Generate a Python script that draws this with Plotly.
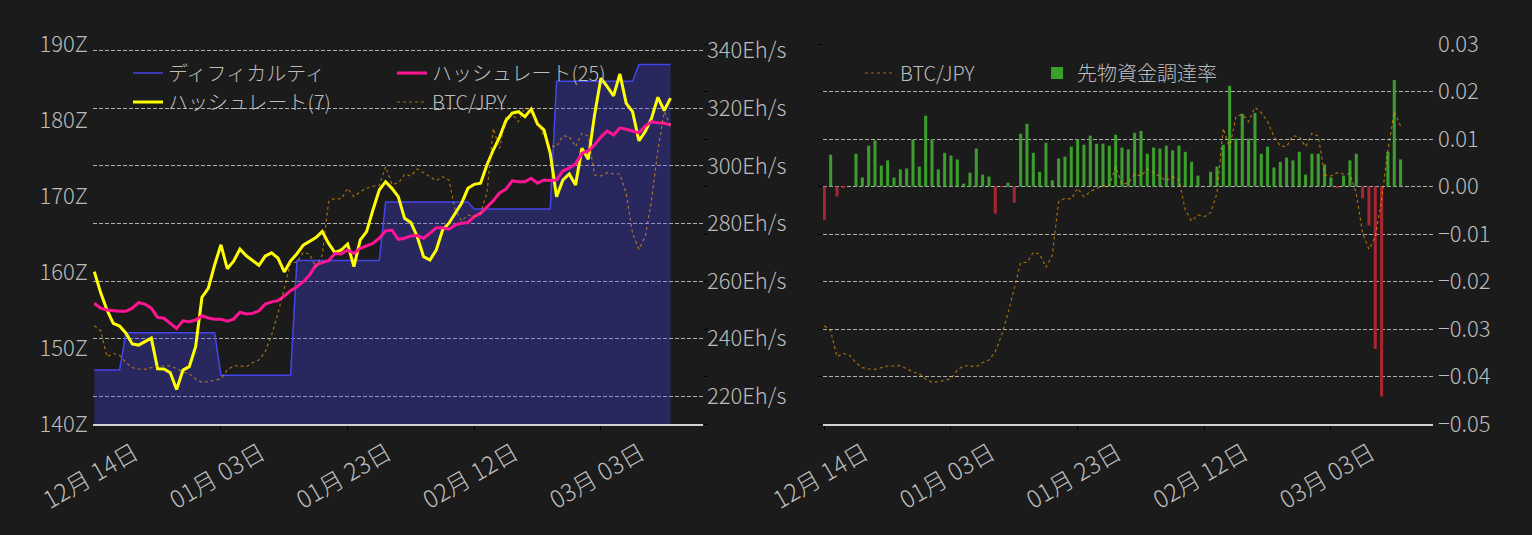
import pandas as pd
import plotly.graph_objects as go

# daily values, 2023-12-14 .. 2024-03-14
dates = pd.date_range("2023-12-14", periods=92, freq="D")

# difficulty in Z
difficulty = [
    147.1, 147.1, 147.1, 147.1, 147.1, 152.0, 152.0, 152.0, 152.0, 152.0,
    152.0, 152.0, 152.0, 152.0, 152.0, 152.0, 152.0, 152.0, 152.0, 152.0,
    146.4, 146.4, 146.4, 146.4, 146.4, 146.4, 146.4, 146.4, 146.4, 146.4,
    146.4, 146.4, 161.5, 161.5, 161.5, 161.5, 161.5, 161.5, 161.5, 161.5,
    161.5, 161.5, 161.5, 161.5, 161.5, 161.5, 169.2, 169.2, 169.2, 169.2,
    169.2, 169.2, 169.2, 169.2, 169.2, 169.2, 169.2, 169.2, 169.2, 169.2,
    168.3, 168.3, 168.3, 168.3, 168.3, 168.3, 168.3, 168.3, 168.3, 168.3,
    168.3, 168.3, 168.3, 185.1, 185.1, 185.1, 185.1, 185.1, 185.1, 185.1,
    185.1, 185.1, 185.1, 185.1, 185.1, 185.1, 187.3, 187.3, 187.3, 187.3,
    187.3, 187.3,
]

# hash rate in Eh/s
hashrate_7 = [
    263.3, 256.0, 250.0, 245.3, 244.4, 241.9, 238.2, 237.8, 239.0, 240.2,
    229.6, 229.5, 228.2, 222.4, 229.1, 230.3, 237.2, 254.4, 257.5, 265.6,
    272.6, 264.3, 266.9, 271.1, 268.8, 267.3, 265.5, 268.7, 269.8, 268.0,
    263.2, 267.0, 269.5, 272.5, 273.7, 275.1, 277.2, 273.1, 269.9, 270.8,
    272.9, 265.0, 274.3, 277.2, 284.7, 291.6, 294.5, 292.2, 289.3, 281.8,
    280.3, 275.4, 268.5, 267.3, 270.8, 277.7, 280.1, 283.5, 287.0, 292.2,
    293.6, 294.0, 300.3, 305.5, 310.0, 315.7, 318.3, 318.8, 317.1, 319.7,
    314.5, 312.5, 304.4, 289.3, 295.1, 297.2, 293.4, 306.1, 302.3, 317.7,
    330.4, 327.5, 324.3, 331.9, 321.7, 318.8, 308.7, 311.9, 316.5, 323.8,
    319.2, 323.5,
]

hashrate_25 = [
    252.3, 250.6, 250.0, 249.7, 249.5, 249.5, 250.6, 252.5, 252.0, 250.6,
    247.4, 247.1, 245.3, 243.6, 246.2, 245.9, 246.5, 248.0, 247.2, 246.8,
    246.8, 246.1, 246.8, 249.2, 248.6, 248.8, 249.7, 252.0, 252.8, 253.2,
    254.8, 256.7, 258.0, 259.8, 262.1, 265.6, 266.4, 267.1, 269.6, 269.4,
    270.8, 269.6, 271.4, 272.2, 273.1, 274.9, 277.4, 277.7, 274.5, 274.9,
    275.7, 275.8, 274.9, 276.6, 278.5, 278.5, 278.0, 279.5, 280.1, 280.3,
    282.4, 283.5, 285.8, 287.9, 290.6, 291.9, 294.8, 294.5, 294.5, 295.7,
    294.0, 295.1, 294.9, 295.1, 298.3, 299.2, 300.7, 304.4, 305.2, 307.3,
    310.0, 312.1, 310.7, 313.2, 312.7, 312.0, 311.5, 313.8, 315.3, 315.0,
    314.8, 314.2,
]

# BTC/JPY
btc_jpy = [
    5966000, 5866000, 5346000, 5414000, 5374000, 5226000, 5126000, 5100000, 5094000, 5120000,
    5160000, 5160000, 5166000, 5106000, 5040000, 5006000, 4900000, 4834000, 4846000, 4874000,
    4906000, 5080000, 5166000, 5160000, 5146000, 5226000, 5280000, 5446000, 5780000, 6214000,
    6734000, 7226000, 7234000, 7434000, 7400000, 7134000, 7380000, 8446000, 8514000, 8500000,
    8714000, 8546000, 8646000, 8714000, 8760000, 8766000, 9146000, 8794000, 8814000, 8994000,
    8960000, 9100000, 9026000, 8946000, 8866000, 8946000, 8880000, 8280000, 8060000, 8180000,
    8146000, 8226000, 8614000, 9914000, 9514000, 10146000, 10194000, 10046000, 10334000, 10226000,
    10046000, 9746000, 9560000, 9546000, 9766000, 9746000, 9546000, 9814000, 9760000, 8980000,
    8960000, 9026000, 9000000, 9000000, 8614000, 7814000, 7494000, 7746000, 8480000, 9480000,
    10246000, 9960000,
]

# futures funding rate
funding_rate = [
    -0.0071, 0.0067, -0.0021, -0.0003, 0.0, 0.0069, 0.0019, 0.0086, 0.0097, 0.0044,
    0.0055, 0.0019, 0.0036, 0.0038, 0.0099, 0.0042, 0.0149, 0.0100, 0.0036, 0.0071,
    0.0065, 0.0057, 0.0006, 0.0029, 0.0080, 0.0025, 0.0021, -0.0057, -0.0001, 0.0008,
    -0.0034, 0.0111, 0.0132, 0.0071, 0.0031, 0.0092, 0.0013, 0.0059, 0.0063, 0.0084,
    0.0099, 0.0088, 0.0107, 0.0090, 0.0090, 0.0086, 0.0109, 0.0082, 0.0078, 0.0113,
    0.0117, 0.0069, 0.0082, 0.0080, 0.0086, 0.0076, 0.0086, 0.0073, 0.0052, 0.0023,
    0.0, 0.0031, 0.0042, 0.0088, 0.0212, 0.0101, 0.0153, 0.0101, 0.0155, 0.0069,
    0.0084, 0.0040, 0.0052, 0.0061, 0.0055, 0.0073, 0.0025, 0.0069, 0.0069, 0.0046,
    0.0019, -0.0003, 0.0023, 0.0055, 0.0069, -0.0025, -0.0082, -0.0342, -0.0442, 0.0073,
    0.0224, 0.0057,
]

BG = "#1b1b1b"
TEXT = "#bdbdbd"
FONT = "Noto Sans CJK JP"
GRID = "rgba(225,225,225,0.75)"
DAY = 86400000
X_RANGE = ["2023-12-13 19:05", "2024-03-19 02:50"]
BTC_RANGE = [4.0e6, 11.6e6]

btc_line = dict(color="rgba(255,165,0,0.6)", width=1.2, dash="dot")

fig = go.Figure()

# left: difficulty / hash rate / BTC
fig.add_trace(go.Scatter(x=dates, y=difficulty, mode="lines", line=dict(width=0),
                         fill="tozeroy", fillcolor="rgba(72,72,255,0.3)",
                         showlegend=False, hoverinfo="skip", xaxis="x", yaxis="y"))
fig.add_trace(go.Scatter(x=dates, y=difficulty, name="ディフィカルティ", mode="lines",
                         line=dict(color="#4545ea", width=1.5),
                         xaxis="x", yaxis="y", legend="legend"))
fig.add_trace(go.Scatter(x=dates, y=hashrate_7, name="ハッシュレート(7)", mode="lines",
                         line=dict(color="#ffff00", width=3),
                         xaxis="x", yaxis="y2", legend="legend"))
fig.add_trace(go.Scatter(x=dates, y=hashrate_25, name="ハッシュレート(25)", mode="lines",
                         line=dict(color="#ff1493", width=3),
                         xaxis="x", yaxis="y2", legend="legend2"))
fig.add_trace(go.Scatter(x=dates, y=btc_jpy, name="BTC/JPY", mode="lines", line=btc_line,
                         xaxis="x", yaxis="y3", legend="legend2"))

# right: funding rate bars + BTC
pos_rate = [v if v >= 0 else None for v in funding_rate]
neg_rate = [v if v < 0 else None for v in funding_rate]
fig.add_trace(go.Bar(x=dates, y=pos_rate, name="先物資金調達率", width=0.48 * DAY,
                     marker=dict(color="#3c9e2c", line=dict(width=0)),
                     xaxis="x2", yaxis="y4", legend="legend4"))
fig.add_trace(go.Bar(x=dates, y=neg_rate, name="先物資金調達率", width=0.48 * DAY,
                     marker=dict(color="#a8262f", line=dict(width=0)), showlegend=False,
                     xaxis="x2", yaxis="y4"))
fig.add_trace(go.Scatter(x=dates, y=btc_jpy, name="BTC/JPY", mode="lines", line=btc_line,
                         xaxis="x2", yaxis="y5", legend="legend3"))

tick_font = dict(family=FONT, size=22, color=TEXT, weight=300)
date_font = dict(family=FONT, size=24, color=TEXT, weight=300)

x_common = dict(type="date", range=X_RANGE, tick0="2023-12-14", dtick=20 * DAY,
                tickformat="%m月 %d日", tickangle=-30, ticklabelshift=40,
                ticks="outside", ticklen=4, tickcolor="#000000",
                showline=True, linecolor="#d2d2d2", linewidth=2,
                showgrid=False, zeroline=False, tickfont=date_font)

btc_axis = dict(range=BTC_RANGE, tick0=BTC_RANGE[0], dtick=(BTC_RANGE[1] - BTC_RANGE[0]) / 8,
                showticklabels=False, ticks="outside", ticklen=4, tickcolor="#000000",
                showgrid=False, zeroline=False, showline=False)

legend_common = dict(bgcolor="rgba(0,0,0,0)",
                     font=dict(family=FONT, size=20, color=TEXT, weight=300),
                     xanchor="left", yanchor="top", orientation="v")

fig.update_layout(
    width=1532, height=535,
    margin=dict(l=93, r=99, t=44, b=111, pad=0),
    paper_bgcolor=BG, plot_bgcolor=BG,
    font=dict(family=FONT, color=TEXT, size=20),
    barmode="overlay",
    xaxis=dict(domain=[0, 0.4552], anchor="y", **x_common),
    yaxis=dict(range=[140, 190], dtick=10, ticksuffix="Z", showgrid=False,
               zeroline=False, tickfont=tick_font, ticklabelstandoff=4, anchor="x"),
    yaxis2=dict(overlaying="y", side="right", anchor="x", range=[210.4, 342.3],
                tick0=220, dtick=20, ticksuffix="Eh/s", showgrid=True, gridcolor=GRID,
                gridwidth=1, griddash="4px,2px", zeroline=False, tickfont=tick_font,
                ticklabelstandoff=3),
    yaxis3=dict(overlaying="y", side="right", anchor="x", **btc_axis),
    xaxis2=dict(domain=[0.5448, 1], anchor="y4", **x_common),
    yaxis4=dict(anchor="x2", side="right", range=[-0.05, 0.03], dtick=0.01,
                tickformat=".2f", showgrid=True, gridcolor=GRID, gridwidth=1,
                griddash="4px,2px", zeroline=False, tickfont=tick_font,
                ticklabelstandoff=4),
    yaxis5=dict(overlaying="y4", side="left", anchor="x2", **btc_axis),
    legend=dict(x=0.0261, y=0.975, **legend_common),
    legend2=dict(x=0.2231, y=0.975, **legend_common),
    legend3=dict(x=0.5724, y=0.975, **legend_common),
    legend4=dict(x=0.7045, y=0.975, **legend_common),
)

fig.write_html("out.html", config={"displayModeBar": False},
               post_script="document.body.style.margin='0';")
